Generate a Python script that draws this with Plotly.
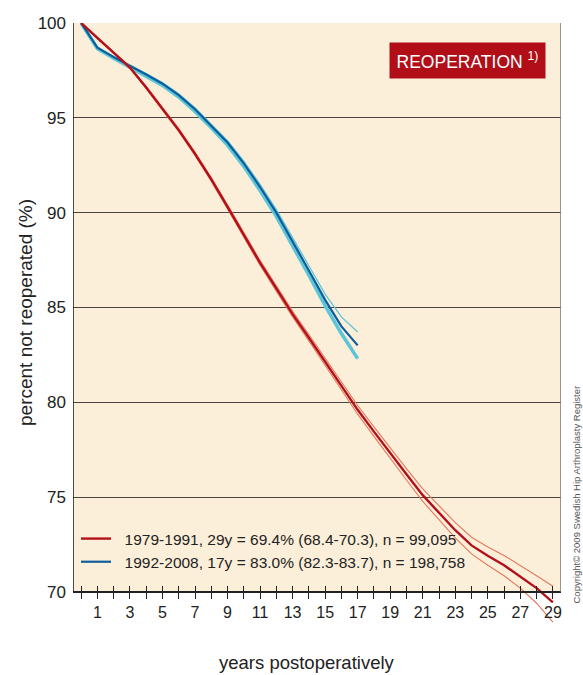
import plotly.graph_objects as go

# ---------------- data ----------------
years_red = list(range(0, 30))
red_main = [100, 99.2, 98.45, 97.65, 96.6, 95.5, 94.35, 93.1, 91.75, 90.3,
            88.85, 87.35, 86.0, 84.65, 83.4, 82.15, 80.85, 79.6, 78.45, 77.3,
            76.2, 75.1, 74.15, 73.25, 72.45, 71.9, 71.4, 70.8, 70.2, 69.45]
red_upper = [100, 99.22, 98.48, 97.7, 96.66, 95.57, 94.43, 93.19, 91.85, 90.41,
             88.97, 87.48, 86.14, 84.8, 83.57, 82.34, 81.06, 79.83, 78.7, 77.57,
             76.5, 75.43, 74.52, 73.65, 72.88, 72.37, 71.92, 71.4, 70.85, 70.3]
red_lower = [100, 99.18, 98.42, 97.6, 96.54, 95.43, 94.27, 93.01, 91.65, 90.19,
             88.73, 87.22, 85.86, 84.5, 83.23, 81.96, 80.64, 79.37, 78.2, 77.03,
             75.9, 74.77, 73.78, 72.85, 72.0, 71.4, 70.85, 70.2, 69.4, 68.4]

years_blue = list(range(0, 18))
blue_main = [100, 98.7, 98.2, 97.75, 97.28, 96.8, 96.2, 95.45, 94.6, 93.7,
             92.6, 91.35, 90.0, 88.5, 86.95, 85.4, 84.0, 83.0]
blue_upper = [100, 98.73, 98.24, 97.8, 97.33, 96.86, 96.27, 95.53, 94.69, 93.8,
              92.72, 91.49, 90.16, 88.7, 87.2, 85.7, 84.5, 83.7]
blue_lower = [100, 98.64, 98.14, 97.68, 97.2, 96.71, 96.1, 95.34, 94.48, 93.56,
              92.44, 91.17, 89.8, 88.28, 86.7, 85.1, 83.62, 82.3]

legend_red = "\u00a0\u00a01979-1991, 29y = 69.4% (68.4-70.3), n = 99,095"
legend_blue = "\u00a0\u00a01992-2008, 17y = 83.0% (82.3-83.7), n = 198,758"

x_label_vals = list(range(1, 30, 2))
x_label_text = [str(v) for v in x_label_vals]
x_minor_vals = list(range(0, 30))
y_tick_vals = [70, 75, 80, 85, 90, 95, 100]
y_tick_text = ["70", "75", "80", "85", "90", "95", "100"]

# ---------------- styling ----------------
FONT = "Liberation Sans, Arial, sans-serif"
BG = "#FCEFD9"
RED = "#B3101C"
RED_CI = "#E3785A"
BLUE = "#0B5D9E"
CYAN = "#5EC5D6"
INK = "#222222"

X_RANGE = [-0.5, 29.5]
Y_RANGE = [68.2, 100]
axis_pos = (70 - Y_RANGE[0]) / (Y_RANGE[1] - Y_RANGE[0])

fig = go.Figure()

# blue group (drawn first, below red)
fig.add_trace(go.Scatter(x=years_blue, y=blue_lower, mode="lines",
                         line=dict(color=CYAN, width=3.6), showlegend=False, hoverinfo="skip"))
fig.add_trace(go.Scatter(x=years_blue, y=blue_upper, mode="lines",
                         line=dict(color=CYAN, width=1.3), showlegend=False, hoverinfo="skip"))
fig.add_trace(go.Scatter(x=years_blue, y=blue_main, mode="lines", name=legend_blue,
                         line=dict(color=BLUE, width=2.2), legendrank=2))

# red group on overlay axis (drawn above)
fig.add_trace(go.Scatter(x=years_red, y=red_upper, mode="lines", xaxis="x2",
                         line=dict(color=RED_CI, width=1.1), showlegend=False, hoverinfo="skip"))
fig.add_trace(go.Scatter(x=years_red, y=red_lower, mode="lines", xaxis="x2",
                         line=dict(color=RED_CI, width=1.1), showlegend=False, hoverinfo="skip"))
fig.add_trace(go.Scatter(x=years_red, y=red_main, mode="lines", xaxis="x2", name=legend_red,
                         line=dict(color=RED, width=2.4), legendrank=1))

W, H = 583, 675
ML, MR, MT, MB = 73, 22, 23, 49
pw = W - ML - MR
ph = H - MT - MB


def px_x(px):
    return (px - ML) / pw


def px_y(py):
    return (H - MB - py) / ph


fig.update_layout(
    width=W, height=H,
    margin=dict(l=ML, r=MR, t=MT, b=MB),
    paper_bgcolor="white",
    plot_bgcolor="white",
    font=dict(family=FONT, color=INK, size=16),
    showlegend=True,
    legend=dict(x=px_x(76), y=px_y(522), xanchor="left", yanchor="top",
                bgcolor="rgba(0,0,0,0)", font=dict(size=15.5, family=FONT, color=INK),
                tracegroupgap=0, itemwidth=30),
    xaxis=dict(range=X_RANGE, anchor="free", position=axis_pos,
               tickmode="array", tickvals=x_label_vals, ticktext=x_label_text,
               ticks="outside", ticklen=6, tickwidth=1.3, tickcolor=INK,
               minor=dict(tickmode="array", tickvals=x_minor_vals, ticks="outside",
                          ticklen=6, tickwidth=1.3, tickcolor=INK, showgrid=False),
               showline=True, linecolor=INK, linewidth=1.6,
               showgrid=False, zeroline=False,
               tickfont=dict(size=16, family=FONT, color=INK)),
    xaxis2=dict(range=X_RANGE, overlaying="x", anchor="free", position=axis_pos,
                tickmode="array", tickvals=x_minor_vals,
                ticks="inside", ticklen=6, tickwidth=1.3, tickcolor=INK,
                showticklabels=False, showline=False, showgrid=False, zeroline=False),
    yaxis=dict(range=Y_RANGE, tickmode="array", tickvals=y_tick_vals, ticktext=y_tick_text,
               showgrid=True, gridcolor="#4a4540", gridwidth=1.3,
               showline=False, zeroline=False, ticks="", ticklabelstandoff=6,
               tickfont=dict(size=17, family=FONT, color=INK)),
    shapes=[
        dict(type="rect", xref="x", yref="y", x0=X_RANGE[0], x1=X_RANGE[1], y0=70, y1=100,
             fillcolor=BG, line=dict(width=0), layer="below"),
        dict(type="line", xref="x", yref="y", x0=X_RANGE[0], x1=X_RANGE[0], y0=70, y1=100,
             line=dict(color=INK, width=1.6)),
        dict(type="line", xref="x", yref="y", x0=X_RANGE[1], x1=X_RANGE[1], y0=70, y1=100,
             line=dict(color="#777", width=1.5)),
    ],
    annotations=[
        dict(text="REOPERATION <sup>1)</sup>", xref="paper", yref="paper",
             x=px_x(467.5), y=px_y(60.5), xanchor="center", yanchor="middle",
             showarrow=False, bgcolor="#B20E18", width=155, height=35, borderpad=0,
             font=dict(color="white", size=17.5, family=FONT)),
        dict(text="percent not reoperated (%)", xref="paper", yref="paper",
             x=px_x(25), y=px_y(313), xanchor="center", yanchor="middle",
             textangle=-90, showarrow=False,
             font=dict(size=19, family=FONT, color=INK)),
        dict(text="years postoperatively", xref="paper", yref="paper",
             x=px_x(307), y=px_y(662), xanchor="center", yanchor="middle",
             showarrow=False, font=dict(size=18.5, family=FONT, color=INK)),
        dict(text="Copyright© 2009 Swedish Hip Arthroplasty Register", xref="paper", yref="paper",
             x=px_x(576), y=px_y(494.5), xanchor="center", yanchor="middle",
             textangle=-90, showarrow=False, font=dict(size=9.5, family=FONT, color="#555")),
    ],
)

fig.write_html("out.html")
